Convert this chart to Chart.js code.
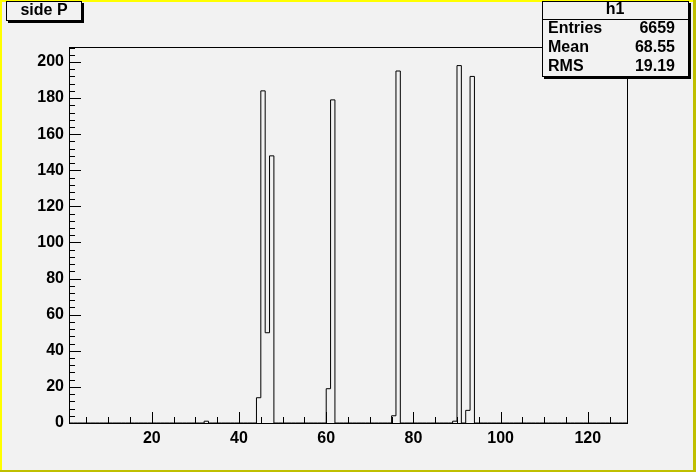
<!DOCTYPE html>
<html>
<head>
<meta charset="utf-8">
<script src="https://cdn.jsdelivr.net/npm/chart.js@4.4.1/dist/chart.umd.min.js"></script>
<style>
    html, body { margin: 0; padding: 0; background: #f2f2f2; }
    #wrap { width: 696px; height: 472px; position: relative; }
</style>
</head>
<body>
<div id="wrap"><canvas id="histo" width="696" height="472"></canvas></div>
<script>
// Histogram h1 "side P", bins of width 1 from 1 to 129 (empty bins are 0)
const histTitle = 'side P';
const histName = 'h1';
const xMin = 1;
const xMax = 129;
const yMax = 208.3;
const binStarts = [32, 44, 45, 46, 47, 60, 61, 75, 76, 89, 90, 92, 93];
const binCounts = [1, 14, 184, 50, 148, 19, 179, 4, 195, 1, 198, 7, 192];
const xTickLabels = [20, 40, 60, 80, 100, 120];
const yTickLabels = [0, 20, 40, 60, 80, 100, 120, 140, 160, 180, 200];
const statsLabels = ['Entries', 'Mean', 'RMS'];
const statsValues = ['6659', '68.55', '19.19'];

const FONT = "'Liberation Sans', Arial, Helvetica, sans-serif";

// step points at each bin edge
const points = [];
for (let x = xMin; x < xMax; x++) {
    const i = binStarts.indexOf(x);
    points.push({ x: x, y: i >= 0 ? binCounts[i] : 0 });
}
points.push({ x: xMax, y: 0 });

function shadowBox(ctx, x, y, w, h) {
    ctx.fillStyle = '#000';
    ctx.fillRect(x + 2, y + 2, w, h);
    ctx.fillStyle = '#f2f2f2';
    ctx.fillRect(x, y, w, h);
    ctx.strokeStyle = '#000';
    ctx.lineWidth = 1;
    ctx.strokeRect(x + 0.5, y + 0.5, w - 1, h - 1);
}

const rootFrame = {
    id: 'rootFrame',
    beforeDraw(chart) {
        const ctx = chart.ctx;
        const W = chart.width, H = chart.height;
        ctx.save();
        ctx.fillStyle = '#f2f2f2';
        ctx.fillRect(0, 0, W, H);
        // bevel border of the canvas
        ctx.fillStyle = '#ffff00';
        ctx.fillRect(0, 0, W, 2);
        ctx.fillRect(0, 0, 2, H);
        ctx.fillStyle = '#bfbf00';
        ctx.fillRect(0, H - 2, W, 2);
        ctx.fillRect(W - 3, 0, 3, H);
        ctx.restore();
    },
    afterDraw(chart) {
        const ctx = chart.ctx;
        const a = chart.chartArea;
        const xs = chart.scales.x, ys = chart.scales.y;
        ctx.save();
        ctx.strokeStyle = '#000';
        ctx.lineWidth = 1;
        ctx.strokeRect(Math.round(a.left) + 0.5, Math.round(a.top) + 0.5,
            Math.round(a.right - a.left), Math.round(a.bottom - a.top));

        // ticks drawn inside the frame
        ctx.beginPath();
        for (let v = 0; v <= xMax; v += 5) {
            if (v < xMin) continue;
            const px = Math.round(xs.getPixelForValue(v)) + 0.5;
            const len = v % 20 === 0 ? 11 : 6;
            ctx.moveTo(px, a.bottom);
            ctx.lineTo(px, a.bottom - len);
        }
        for (let v = 0; v <= yMax; v += 4) {
            const py = Math.round(ys.getPixelForValue(v)) + 0.5;
            const len = v % 20 === 0 ? 12 : 6;
            ctx.moveTo(a.left, py);
            ctx.lineTo(a.left + len, py);
        }
        ctx.stroke();

        // title box
        shadowBox(ctx, 6, 1, 76, 20);
        ctx.fillStyle = '#000';
        ctx.font = 'bold 16px ' + FONT;
        ctx.textAlign = 'center';
        ctx.textBaseline = 'middle';
        ctx.fillText(histTitle, 44, 11);

        // stats box
        shadowBox(ctx, 542, 1, 147, 76);
        ctx.beginPath();
        ctx.moveTo(542, 19.5);
        ctx.lineTo(689, 19.5);
        ctx.stroke();
        ctx.fillStyle = '#000';
        ctx.font = 'bold 16px ' + FONT;
        ctx.textAlign = 'center';
        ctx.fillText(histName, 615, 10);
        statsLabels.forEach((lab, i) => {
            const y = 29 + i * 19;
            ctx.textAlign = 'left';
            ctx.fillText(lab, 548, y);
            ctx.textAlign = 'right';
            ctx.fillText(statsValues[i], 675, y);
        });
        ctx.restore();
    }
};

const tickFont = { family: FONT, size: 16, weight: 'bold' };

new Chart(document.getElementById('histo'), {
    type: 'line',
    data: {
        datasets: [{
            data: points,
            stepped: true,
            borderColor: '#000',
            borderWidth: 1,
            pointRadius: 0,
            fill: false
        }]
    },
    options: {
        responsive: false,
        animation: false,
        layout: { padding: { left: 0, top: 47, right: 69, bottom: 0 } },
        plugins: { legend: { display: false }, tooltip: { enabled: false } },
        scales: {
            x: {
                type: 'linear',
                min: xMin,
                max: xMax,
                grid: { display: false, drawTicks: false },
                border: { display: false },
                afterBuildTicks: s => { s.ticks = xTickLabels.map(v => ({ value: v })); },
                afterFit: s => { s.height = 49; },
                ticks: { font: tickFont, color: '#000', padding: 6, maxRotation: 0, autoSkip: false }
            },
            y: {
                min: 0,
                max: yMax,
                grid: { display: false, drawTicks: false },
                border: { display: false },
                afterBuildTicks: s => { s.ticks = yTickLabels.map(v => ({ value: v })); },
                afterFit: s => { s.width = 69; },
                ticks: { font: tickFont, color: '#000', padding: 5, autoSkip: false }
            }
        }
    },
    plugins: [rootFrame]
});
</script>
</body>
</html>
